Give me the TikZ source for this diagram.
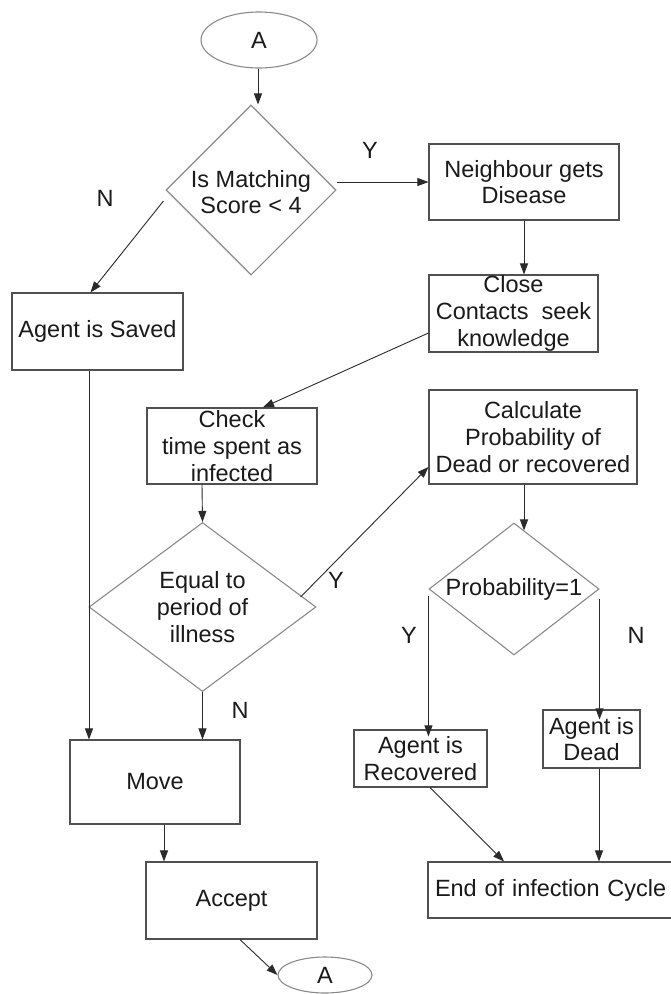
\documentclass[tikz,border=0pt]{standalone}
\usepackage{fontspec}
\setmainfont{Liberation Sans}
\usetikzlibrary{shapes.geometric,arrows.meta,calc}
\definecolor{boxline}{HTML}{505050}
\definecolor{dialine}{HTML}{8A8A8A}
\definecolor{txt}{HTML}{1A1A1A}
\definecolor{arr}{HTML}{2A2A2A}
\tikzset{
  procbox/.style={draw=boxline, line width=1.1pt, rectangle, inner sep=0pt, align=center, text=txt},
  decbox/.style={draw=dialine, line width=1.1pt, diamond, inner sep=0pt},
  dectext/.style={align=center, text=txt, inner sep=0pt},
  termbox/.style={draw=dialine, line width=1.1pt, ellipse, inner sep=0pt, text=txt},
  flow/.style={draw=arr, line width=0.9pt, -{Triangle[length=11pt,width=8pt]}},
  yn/.style={text=txt, inner sep=0pt}
}
\begin{document}
\begin{tikzpicture}[x=1pt,y=-1pt, every node/.append style={font=\fontsize{23.5}{26.7}\selectfont}]
\useasboundingbox[fill=white] (0,0) rectangle (671,994);

% terminals
\node[termbox, minimum width=116pt, minimum height=56pt] (a1) at (259,40) {A};
\node[termbox, minimum width=94pt, minimum height=36pt] (a2) at (325,975) {A};

% decisions
\node[decbox, minimum width=170pt, minimum height=170pt] (d1) at (251,190) {};
\node[dectext] (d1t) at (251,192) {Is Matching\\Score < 4};
\node[decbox, minimum width=227pt, minimum height=169pt] (d2) at (202.5,607) {};
\node[dectext] (d2t) at (202.5,607) {Equal to\\period of\\illness};
\node[decbox, minimum width=170pt, minimum height=132pt] (d3) at (514,589) {};
\node[dectext] (d3t) at (514,589) {Probability=1};

% processes
\node[procbox, minimum width=190pt, minimum height=76pt] (neigh) at (524,182) {Neighbour gets\\Disease};
\node[procbox, minimum width=171pt, minimum height=77pt] (saved) at (97.5,331.5) {Agent is Saved};
\node[procbox, minimum width=169pt, minimum height=77pt] (close) at (513.5,313.5) {Close\\Contacts\ \ seek\\knowledge};
\node[procbox, minimum width=170pt, minimum height=76pt] (check) at (232,446) {Check\\time spent as\\infected};
\node[procbox, minimum width=208pt, minimum height=94pt] (calc) at (533,437) {Calculate\\Probability of\\Dead or recovered};
\node[procbox, minimum width=133pt, minimum height=57pt] (rec) at (420.5,758.5) {Agent is\\Recovered};
\node[procbox, minimum width=97pt, minimum height=58pt] (dead) at (591.5,739) {Agent is\\Dead};
\node[procbox, minimum width=170pt, minimum height=84pt] (move) at (155,782) {Move};
\node[procbox, minimum width=171pt, minimum height=77pt] (accept) at (231.5,900.5) {Accept};
\node[procbox, minimum width=252pt, minimum height=56pt, text width=250pt, align=left] (endc) at (554,890) {\hspace*{6pt}End of infection Cycle};

% labels
\node[yn] (ly1) at (370,150) {Y};
\node[yn] (ln1) at (105,198) {N};
\node[yn] (ly2) at (336,580) {Y};
\node[yn] (ln2) at (240,710) {N};
\node[yn] (ly3) at (409,635) {Y};
\node[yn] (ln3) at (636,635) {N};

% connectors
\draw[flow] ([xshift=-1pt]a1.south) -- ([xshift=-1pt]a1.south |- d1.north);
\draw[flow] (d1.east |- neigh.west) -- (neigh.west);
\draw[flow] ([xshift=-2pt,yshift=-11pt]d1.west) -- ([xshift=-7pt]saved.north);
\draw[flow] (neigh.south) -- (neigh.south |- close.north);
\draw[flow] ([yshift=-19.5pt]close.west) -- ([xshift=31pt]check.north);
\draw[flow] ([xshift=-8.5pt]saved.south) -- ([xshift=-8.5pt]saved.south |- move.north);
\draw[flow] ([xshift=-30pt]check.south) -- (d2.north);
\draw[flow] ([xshift=-16pt,yshift=10pt]d2.east) -- ([yshift=-30pt]calc.west);
\draw[flow] (d2.south) -- (d2.south |- move.north);
\draw[flow] ([xshift=-9pt]calc.south) -- ([xshift=10pt,yshift=-8pt]d3.north);
\draw[flow] ([yshift=-7pt]d3.west) -- ([yshift=-7pt]d3.west |- rec.north);
\draw[flow] ([yshift=-10pt]d3.east) -- ([yshift=-10pt]d3.east |- dead.north);
\draw[flow] ([xshift=9.5pt]rec.south) -- ([xshift=-50pt]endc.north);
\draw[flow] ([xshift=7.5pt]dead.south) -- ([xshift=7.5pt]dead.south |- endc.north);
\draw[flow] ([xshift=9pt]move.south) -- ([xshift=9pt]move.south |- accept.north);
\draw[flow] ([xshift=8.5pt]accept.south) -- (a2.west);
\end{tikzpicture}
\end{document}
